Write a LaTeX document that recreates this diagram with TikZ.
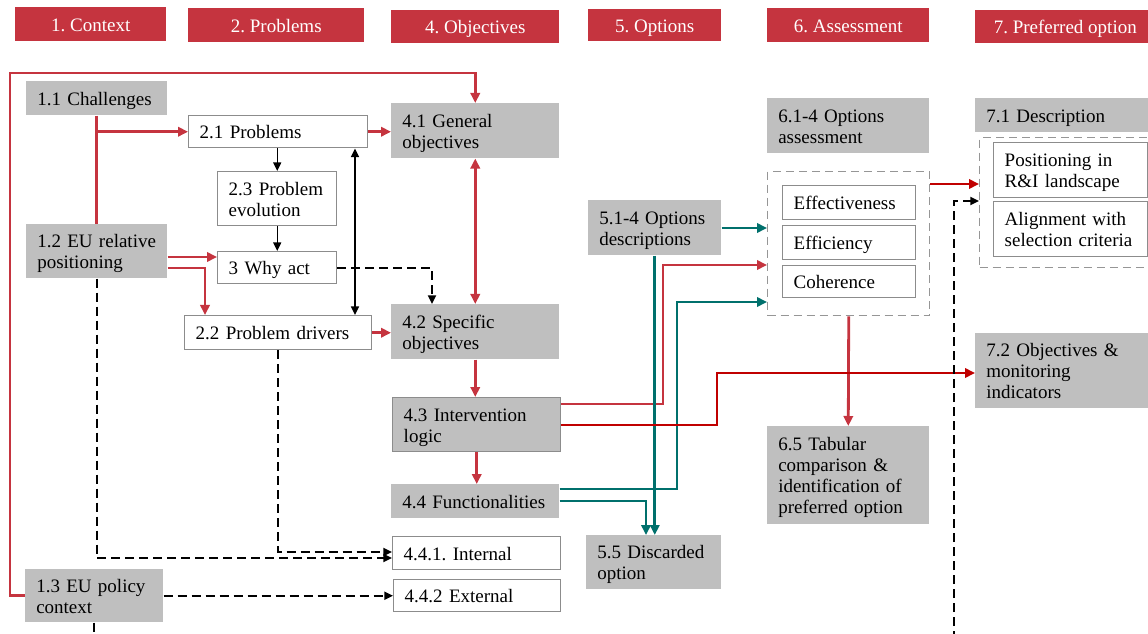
\documentclass[tikz,border=0pt]{standalone}
\usepackage{fontspec}
\setmainfont{Liberation Serif}
\usetikzlibrary{arrows.meta}
\usetikzlibrary{positioning}
\definecolor{hdred}{RGB}{197,52,63}
\definecolor{drkred}{RGB}{192,0,0}
\definecolor{petrol}{RGB}{0,112,108}
\definecolor{boxgray}{RGB}{191,191,191}
\definecolor{edgegray}{RGB}{140,140,140}
\definecolor{dashgray}{RGB}{150,150,150}

\begin{document}
\begin{tikzpicture}[x=0.75pt,y=-0.75pt,
  font=\fontsize{14.25}{15.75}\selectfont\frenchspacing,
  txt/.style={execute at begin node={\rule{0pt}{13.5pt}},
    execute at end node={\rule[-3.2pt]{0pt}{0pt}}},
  hdr/.style 2 args={txt,fill=hdred,text=white,anchor=north west,inner sep=0pt,
    minimum width=#1*0.75pt,minimum height=#2*0.75pt},
  gbox/.style 2 args={txt,fill=boxgray,anchor=north west,align=left,
    inner xsep=8.25pt,inner ysep=0pt,text width=(#1-22)*0.75pt,
    minimum width=#1*0.75pt,minimum height=#2*0.75pt},
  wbox/.style 2 args={gbox={#1}{#2},fill=white,draw=edgegray,line width=1.1pt},
  cbox/.style 2 args={draw=dashgray,line width=1.1pt,dash pattern=on 6pt off 3.75pt,
    anchor=north west,inner sep=0pt,minimum width=#1*0.75pt,minimum height=#2*0.75pt},
  rd/.style={draw=hdred,line width=2.1pt,>={Triangle[length=7.5pt,width=7pt]}},
  drd/.style={rd,draw=drkred},
  tl/.style={rd,draw=petrol},
  bk/.style={line width=1.1pt,>={Triangle[length=6.5pt,width=6pt]}},
  bd/.style={bk,line width=1.4pt,dash pattern=on 6.75pt off 3.75pt}]
\useasboundingbox (0,0) rectangle (1148,634);
% headers
\node[hdr={151}{34}] (h1) at (15,7) {1. Context};
\node[hdr={176}{34}] (h2) at (188,8) {2. Problems};
\node[hdr={168}{33}] (h4) at (391,10) {4. Objectives};
\node[hdr={133}{32}] (h5) at (588,9) {5. Options};
\node[hdr={162}{34}] (h6) at (767,8) {6. Assessment};
\node[hdr={180}{33}] (h7) at (975,10) {7. Preferred option};
% context
\node[gbox={141}{34}] (ch) at (26,81) {1.1 Challenges};
\node[gbox={141}{54}] (eu) at (26,224) {1.2 EU relative\\positioning};
\node[gbox={138}{53}] (pc) at (25,569) {1.3 EU policy\\context};
% problems
\node[wbox={179}{32}] (pr) at (188,115) {2.1 Problems};
\node[wbox={119}{54}] (pe) at (217,171) {2.3 Problem\\evolution};
\node[wbox={119}{32}] (wa) at (217,251) {3 Why act};
\node[wbox={187}{34}] (pd) at (184,315) {2.2 Problem drivers};
% objectives
\node[gbox={168}{55}] (go) at (391,103) {4.1 General\\objectives};
\node[gbox={168}{55}] (so) at (391,304) {4.2 Specific\\objectives};
\node[gbox={168}{54},draw=edgegray,line width=1.1pt] (il) at (392,397) {4.3 Intervention\\logic};
\node[gbox={168}{34}] (fu) at (391,484) {4.4~Functionalities};
\node[wbox={168}{33}] (in) at (392,536) {4.4.1. Internal};
\node[wbox={167}{32}] (ex) at (393,579) {4.4.2 External};
% options
\node[gbox={133}{55}] (od) at (588,200) {5.1-4 Options\\descriptions};
\node[gbox={135}{54}] (dc) at (586,535) {5.5 Discarded\\option};
% assessment
\node[gbox={162}{55}] (oa) at (767,98) {6.1-4 Options\\assessment};
\node[cbox={162}{144}] (asm) at (767,171) {};
\node[wbox={133}{34}] (ef) at (782,185) {Effectiveness};
\node[wbox={133}{34}] (ec) at (782,225) {Efficiency};
\node[wbox={133}{32}] (co) at (782,265) {Coherence};
\node[gbox={162}{98}] (tc) at (767,426) {6.5 Tabular\\comparison \&\\identification of\\preferred option};
% preferred option
\node[gbox={180}{34}] (de) at (975,98) {7.1 Description};
\node[cbox={181}{130}] (dsc) at (979,137) {};
\node[wbox={154}{55}] (ri) at (993,142) {Positioning in\\R\&I landscape};
\node[wbox={154}{55}] (al) at (993,201) {Alignment with\\selection~criteria};
\node[gbox={180}{75}] (om) at (975,333) {7.2 Objectives \&\\monitoring\\indicators};
\coordinate (lo) at (954,640);

\draw[rd,->] (pc.west) -| (10,73) -| (go.north);
\draw[rd] (ch.south) -- (eu.north);
\draw[rd,->] (ch.south |- pr.west) -- (pr.west);
\draw[rd,->] (eu.east |- 0,257) -- (wa.west |- 0,257);
\draw[rd,->] (eu.east |- 0,268) -| (205,0 |- pd.north);
\draw[rd,->] (pr.east) -- (go.west |- pr.east);
\draw[rd,<->] (go.south) -- (so.north);
\draw[rd,->] (pd.east) -- (so.west |- pd.east);
\draw[rd,->] (so.south) -- (so.south |- il.north);
\draw[rd,->] (il.south) -- (il.south |- fu.north);
\draw[rd,->] (il.east |- 0,404) -| (663,265) -- (asm.west |- 0,265);
\draw[rd,->] (asm.south) -- (tc.north);

\draw[tl,->] (od.east |- 0,228) -- (asm.west |- 0,228);
\draw[tl,->] (od.south) -- (od.south |- dc.north);
\draw[tl,->] (fu.east |- 0,489) -| (677,302) -- (asm.west |- 0,302);
\draw[tl,->] (fu.east |- 0,501) -| (646,0 |- dc.north);

\draw[drd,->] (asm.east |- 0,184) -- (dsc.west |- 0,184);
\draw[drd,->] (il.east |- 0,425) -| (717,373) -- (om.west |- 0,373);

\draw[bk,->] (pe.north |- pr.south) -- (pe.north);
\draw[bk,->] (pe.south) -- (wa.north);
\draw[bk,<->] (355,0 |- pr.south) -- (355,0 |- pd.north);
\draw[bd,->] (wa.east) -| (432,0 |- so.north);
\draw[bd,->] (eu.south) |- (in.west |- 0,558);
\draw[bd,->] (pd.south) |- (in.west |- 0,552);
\draw[bd,->] (pc.east) -- (ex.west |- pc.east);
\draw[bd] (pc.south) -- (pc.south |- 0,640);
\draw[bd,->] (lo) |- (dsc.west |- 0,201);
\end{tikzpicture}
\end{document}
